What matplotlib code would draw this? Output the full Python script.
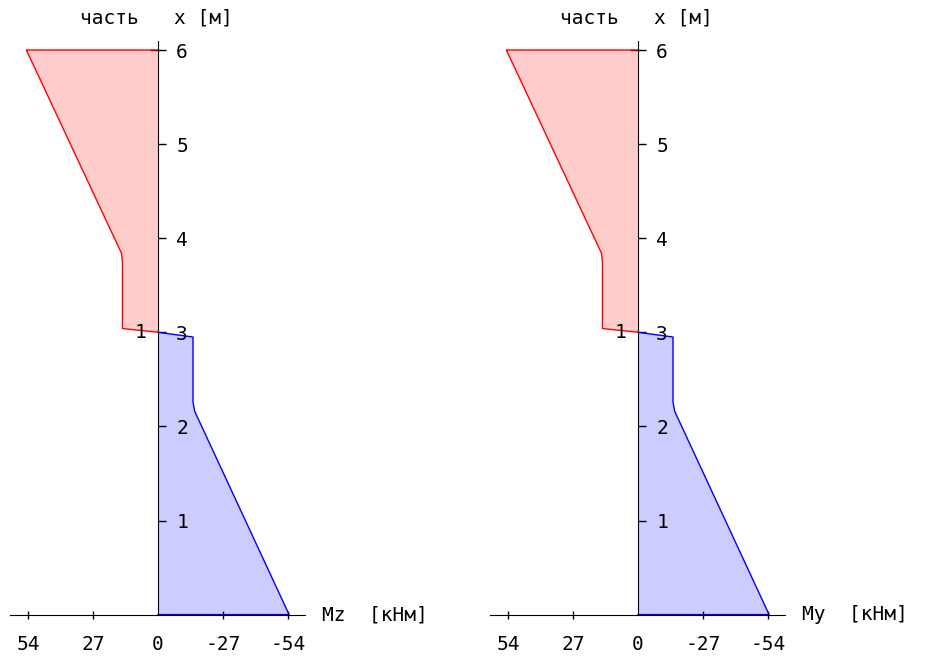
import matplotlib.pyplot as plt

plt.rcParams['font.family'] = ['DejaVu Sans Mono']
plt.rcParams['axes.unicode_minus'] = False

# moment diagrams, x along the beam [m], M [kNm]
x_part2 = [3.0, 3.04, 3.75, 3.84, 6.0, 6.0]
m_part2 = [0.0, 14.8, 14.8, 15.2, 54.7, 0.0]
x_part1 = [3.0, 2.95, 2.26, 2.16, 0.0, 0.0]
m_part1 = [0.0, -14.5, -14.5, -15.2, -54.4, 0.0]

m_ticks = [54, 27, 0, -27, -54]
m_labels = ["54", "27", "0", "-27", "-54"]
x_ticks = [1, 2, 3, 4, 5, 6]
panel_names = ["Mz  [кНм]", "My  [кНм]"]

W, H = 926, 657
fig = plt.figure(figsize=(W / 100, H / 100), dpi=100)

for k, name in enumerate(panel_names):
    off = 480 * k
    ax = fig.add_axes([(10 + off) / W, (H - 614.6) / H, 295 / W, 574 / H])
    ax.set_xlim(61.5, -61)
    ax.set_ylim(0, 6.1)

    ax.fill(m_part2, x_part2, color="#ffcccc", lw=0)
    ax.fill(m_part1, x_part1, color="#ccccff", lw=0)
    ax.plot(m_part2, x_part2, color="red", lw=1)
    ax.plot(m_part1, x_part1, color="blue", lw=1)

    for s in ["left", "top"]:
        ax.spines[s].set_visible(False)
    ax.spines["right"].set_position(("data", 0))
    ax.spines["bottom"].set_position(("data", 0))
    ax.spines["right"].set_zorder(5)
    ax.spines["bottom"].set_zorder(5)

    ax.yaxis.tick_right()
    ax.set_yticks(x_ticks)
    ax.set_yticklabels([str(v) for v in x_ticks])
    ax.tick_params(axis="y", direction="out", length=6, width=1, pad=7,
                   labelsize=14)
    ax.set_xticks(m_ticks)
    ax.set_xticklabels(m_labels)
    ax.tick_params(axis="x", direction="inout", length=6, width=1, pad=12,
                   labelsize=14)
    ax.patch.set_visible(False)
    fig.canvas.draw()
    ax.xaxis.get_major_ticks()[2].tick1line.set_visible(False)
    t6 = ax.yaxis.get_major_ticks()[-1]
    t6.tick2line.set_marker("_")
    t6.tick2line.set_markersize(12)

    ax.text(5.0, 3.0, "1", ha="right", va="center", fontsize=14)

    fig.text((322 + off) / W, 1 - 615 / H, name, ha="left", va="center",
             fontsize=14)
    fig.text((80 + off) / W, 1 - 18 / H, "часть   x [м]", ha="left",
             va="center", fontsize=14)

fig.savefig("out.png", dpi=100)
